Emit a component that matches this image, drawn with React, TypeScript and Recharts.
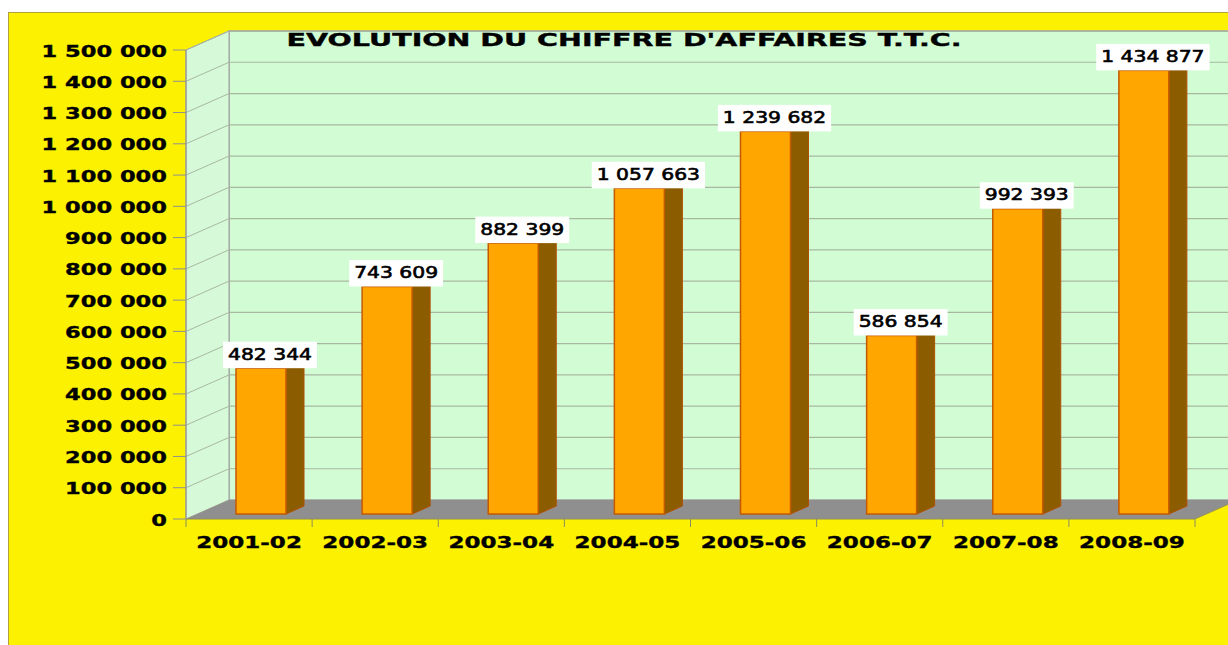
import React from 'react';
import { BarChart, Bar, XAxis, YAxis, CartesianGrid, LabelList } from 'recharts';

const seasons = ['2001-02', '2002-03', '2003-04', '2004-05', '2005-06', '2006-07', '2007-08', '2008-09'];
const turnover = [482344, 743609, 882399, 1057663, 1239682, 586854, 992393, 1434877];
const yTicks = [0, 100000, 200000, 300000, 400000, 500000, 600000, 700000, 800000, 900000, 1000000, 1100000, 1200000, 1300000, 1400000, 1500000];
const title = "EVOLUTION DU CHIFFRE D'AFFAIRES T.T.C.";

const data = seasons.map((s, i) => ({ season: s, value: turnover[i] }));

const W = 1228;
const H = 645;
const PLOT = { left: 186, top: 50, right: 1195, bottom: 519 };
const DEPTH_X = 43;
const DEPTH_Y = 19;
const BAND = (PLOT.right - PLOT.left) / seasons.length;
const BAR_W = 50;
const BAR_SHIFT = 12; // bars sit a bit back in the depth
const SIDE_X = 18;
const SIDE_Y = 8;
const FONT = '"DejaVu Sans", Verdana, sans-serif';

const fmt = (v: number) => String(v).replace(/\B(?=(\d{3})+(?!\d))/g, ' ');

function Bar3D(props: any) {
  const { x, y, width, height } = props;
  if (height == null || height <= 0) return null;
  const fx = x + (width - BAR_W) / 2 + BAR_SHIFT;
  const bottom = y + height - 5;
  return (
    <g>
      <polygon
        points={`${fx},${y} ${fx + SIDE_X},${y - SIDE_Y} ${fx + BAR_W + SIDE_X},${y - SIDE_Y} ${fx + BAR_W},${y}`}
        fill="#ffc040"
        stroke="#c05800"
        strokeWidth={1}
      />
      <polygon
        points={`${fx + BAR_W},${y} ${fx + BAR_W + SIDE_X},${y - SIDE_Y} ${fx + BAR_W + SIDE_X},${bottom - SIDE_Y} ${fx + BAR_W},${bottom}`}
        fill="#8c5c00"
        stroke="#b05000"
        strokeWidth={1}
      />
      <rect x={fx} y={y} width={BAR_W} height={bottom - y} fill="#ffa600" stroke="#c45a00" strokeWidth={1.5} />
    </g>
  );
}

function ValueLabel(props: any) {
  const { x, y, width, value } = props;
  const text = fmt(value);
  let tw = 0;
  for (const c of text) tw += c === ' ' ? 6.5 : 12.9;
  const cx = x + (width - BAR_W) / 2 + BAR_SHIFT + (BAR_W + SIDE_X) / 2;
  const bw = tw + 10;
  return (
    <g>
      <rect x={cx - bw / 2} y={y - 26.5} width={bw} height={26.5} fill="#ffffff" />
      <text
        transform={`translate(${cx},${y - 8.5}) scale(1.27,1)`}
        textAnchor="middle"
        fontFamily={FONT}
        fontSize={16}
        fill="#000"
        stroke="#000"
        strokeWidth={0.6}
      >
        {text}
      </text>
    </g>
  );
}

function YTick(props: any) {
  const { x, y, payload } = props;
  return (
    <text
      transform={`translate(${x},${y + 6.5}) scale(1.41,1)`}
      textAnchor="end"
      fontFamily={FONT}
      fontWeight="bold"
      fontSize={16}
      fill="#000"
      stroke="#000"
      strokeWidth={0.35}
    >
      {fmt(payload.value)}
    </text>
  );
}

function XTick(props: any) {
  const { x, payload, index } = props;
  const axisY = PLOT.bottom;
  return (
    <g>
      <line x1={x - BAND / 2} y1={axisY} x2={x - BAND / 2} y2={axisY + 8} stroke="#8c8c60" />
      {index === seasons.length - 1 && (
        <line x1={x + BAND / 2} y1={axisY} x2={x + BAND / 2} y2={axisY + 8} stroke="#8c8c60" />
      )}
      <text
        transform={`translate(${x},${axisY + 29}) scale(1.44,1)`}
        textAnchor="middle"
        fontFamily={FONT}
        fontWeight="bold"
        fontSize={16}
        fill="#000"
        stroke="#000"
        strokeWidth={0.35}
      >
        {payload.value}
      </text>
    </g>
  );
}

function GridLine(props: any) {
  const { x1, y1, index } = props;
  if (Math.abs(y1 - PLOT.bottom) < 1) return <g key={`g-${index}`} />;
  return (
    <g key={`g-${index}`}>
      <line x1={x1} y1={y1} x2={x1 + DEPTH_X} y2={y1 - DEPTH_Y} stroke="#a8b8a0" strokeWidth={1} />
      <line x1={x1 + DEPTH_X} y1={y1 - DEPTH_Y} x2={W} y2={y1 - DEPTH_Y} stroke="#a8b8a0" strokeWidth={1.2} />
    </g>
  );
}

function Backdrop() {
  const bx = PLOT.left + DEPTH_X;
  const topB = PLOT.top - DEPTH_Y;
  const botB = PLOT.bottom - DEPTH_Y;
  return (
    <svg width={W} height={H} style={{ position: 'absolute', left: 0, top: 0 }}>
      <rect x={8.5} y={12.5} width={W} height={H} fill="#fbf100" stroke="#b0a040" strokeWidth={1} />
      <rect x={bx} y={topB} width={W - bx + 5} height={botB - topB} fill="#d2fcd4" stroke="#a0a0a0" strokeWidth={1.5} />
      <polygon
        points={`${PLOT.left},${PLOT.top} ${bx},${topB} ${bx},${botB} ${PLOT.left},${PLOT.bottom}`}
        fill="#d6fad8"
        stroke="#a0a0a0"
        strokeWidth={1}
      />
      <polygon
        points={`${PLOT.left},${PLOT.bottom} ${PLOT.right},${PLOT.bottom} ${PLOT.right + DEPTH_X},${botB} ${bx},${botB}`}
        fill="#8f8f8f"
      />
      <line x1={PLOT.right} y1={PLOT.bottom} x2={PLOT.right + DEPTH_X} y2={botB} stroke="#9c9450" />
      <text
        x={624}
        y={46}
        textAnchor="middle"
        fontFamily={FONT}
        fontWeight="bold"
        fontSize={17}
        textLength={675}
        lengthAdjust="spacingAndGlyphs"
        fill="#000"
        stroke="#000"
        strokeWidth={0.35}
      >
        {title}
      </text>
    </svg>
  );
}

export default function App() {
  return (
    <div style={{ position: 'relative', width: W, height: H, overflow: 'hidden' }}>
      <style>{'body{margin:0;overflow:hidden}'}</style>
      <Backdrop />
      <div style={{ position: 'absolute', left: 0, top: 0 }}>
        <BarChart
          width={W}
          height={H}
          data={data}
          margin={{ top: PLOT.top, right: W - PLOT.right, left: 0, bottom: H - PLOT.bottom - 40 }}
          barCategoryGap={0}
        >
          <CartesianGrid vertical={false} horizontal={(p: any) => <GridLine {...p} />} />
          <XAxis
            dataKey="season"
            height={40}
            tickLine={false}
            axisLine={{ stroke: '#8c8c60' }}
            tick={<XTick />}
            interval={0}
          />
          <YAxis
            width={PLOT.left}
            domain={[0, 1500000]}
            ticks={yTicks}
            interval={0}
            tickSize={13}
            tickMargin={6}
            tickLine={{ stroke: '#909090' }}
            axisLine={{ stroke: '#909090' }}
            tick={<YTick />}
          />
          <Bar dataKey="value" barSize={BAR_W} shape={<Bar3D />} isAnimationActive={false}>
            <LabelList dataKey="value" content={<ValueLabel />} />
          </Bar>
        </BarChart>
      </div>
    </div>
  );
}
